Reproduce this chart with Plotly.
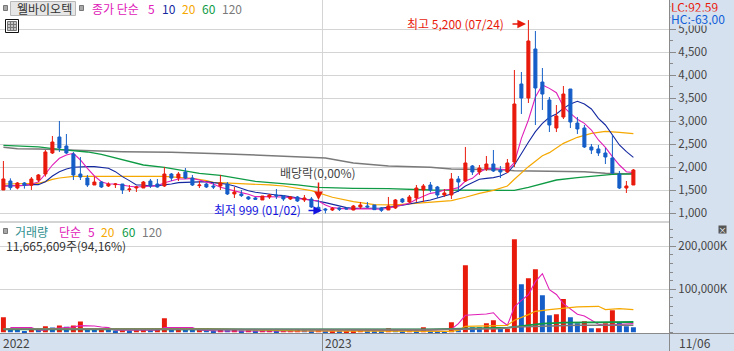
import plotly.graph_objects as go

open_ = [1507,1702,1550,1659,1608,1724,1854,2311,2659,2463,
         2289,1854,1767,1615,1680,1594,1623,1637,1514,1550,
         1550,1702,1637,1594,1854,1767,1898,1767,1601,1637,
         1594,1594,1637,1420,1420,1355,1333,1290,1355,1398,
         1376,1311,1355,1290,1311,1130,1094,1072,1116,1108,
         1072,1137,1159,1181,1116,1072,1116,1311,1246,1333,
         1507,1615,1572,1398,1398,1746,1702,2029,1898,1963,
         2072,1941,1898,2115,3811,3506,4572,3854,3463,2854,
         3093,3702,2963,2855,2442,2398,2311,2203,1854,1550,1615]
high = [2137,1760,1680,1680,1789,1854,2376,2681,3007,2724,
        2333,2224,1833,1797,1702,1673,1659,1637,1615,1594,
        1702,1746,1746,2007,1876,1898,1985,1833,1702,1659,
        1659,1833,1680,1572,1507,1376,1355,1376,1420,1528,
        1398,1376,1376,1398,1355,1290,1116,1137,1130,1130,
        1181,1246,1246,1181,1137,1355,1311,1333,1398,1615,
        1637,1680,1594,1528,1876,1811,2442,2050,2050,2246,
        2376,2029,2181,4115,4072,5200,4963,4159,3528,3354,
        3767,3702,3094,2920,2507,2485,2420,2703,1920,1702,1963]
low = [1507,1507,1521,1536,1507,1680,1797,2289,2333,2289,
       1724,1724,1572,1615,1550,1572,1550,1420,1463,1463,
       1550,1550,1558,1572,1702,1702,1746,1594,1550,1550,
       1528,1507,1398,1333,1355,1290,1290,1290,1311,1311,
       1268,1290,1246,1246,1116,1020,999,1050,1050,1087,
       1065,1094,1116,1072,1029,1072,1094,1224,1224,1246,
       1246,1456,1333,1355,1311,1463,1680,1833,1833,1920,
       1898,1767,1876,2006,3158,3398,2919,3246,2767,2767,
       3050,2854,2724,2420,2289,2246,2072,1854,1528,1442,1615]
close = [1746,1558,1659,1608,1746,1833,2333,2550,2420,2311,
         1833,1789,1615,1680,1572,1637,1637,1507,1528,1572,
         1680,1594,1572,1854,1767,1854,1767,1615,1615,1572,
         1572,1659,1420,1463,1384,1311,1304,1376,1398,1376,
         1311,1355,1268,1333,1137,1050,1072,1108,1087,1094,
         1159,1181,1137,1079,1065,1159,1290,1246,1355,1550,
         1594,1507,1398,1442,1746,1680,2094,1898,1985,2072,
         1920,1898,2094,3376,3506,4746,3724,3593,2919,3115,
         3593,2985,2833,2442,2376,2311,2224,1876,1550,1594,1941]
volume = [34875,9000,7000,2500,8000,6000,14000,11000,16000,13000,
          16000,25000,9000,7000,9000,6000,4000,5000,4000,5000,
          7000,5000,6000,32500,8000,9000,8000,6000,7000,5000,
          4000,6000,5000,6000,4000,5000,4000,5000,6000,4000,
          5000,6000,7000,5000,4000,5000,3000,4000,2500,3000,
          4000,5000,4000,3000,2500,9300,5000,4000,5000,4000,
          11600,3000,2500,2000,23250,4650,155775,11800,11600,20900,
          27900,8500,8500,216225,111600,125550,146475,86000,39500,41850,
          77500,34875,20925,25575,9300,9300,20925,51150,23250,13950,11666]

ma5 = [1594,1594,1594,1608,1637,1680,1854,2050,2195,2268,
       2304,2159,1978,1811,1688,1637,1637,1608,1587,1572,
       1579,1587,1601,1666,1710,1746,1746,1760,1724,1673,
       1637,1565,1521,1492,1449,1413,1362,1362,1362,1362,
       1355,1340,1326,1311,1297,1268,1181,1123,1108,1094,
       1087,1101,1101,1094,1087,1108,1145,1174,1217,1304,
       1362,1434,1456,1507,1521,1558,1702,1760,1891,1971,
       1978,1956,1941,2101,2630,3029,3528,3789,3716,3622,
       3318,3174,3043,2956,2811,2594,2434,2232,2050,1905,1884]
ma10 = [1594,1594,1594,1608,1623,1623,1688,1811,1905,1963,
        2000,2014,2014,2014,2000,1978,1905,1797,1710,1615,
        1615,1594,1601,1615,1637,1666,1673,1688,1688,1688,
        1666,1652,1630,1594,1536,1492,1456,1434,1413,1398,
        1384,1362,1340,1319,1290,1261,1232,1195,1152,1123,
        1108,1108,1108,1108,1116,1130,1145,1174,1203,1239,
        1261,1290,1326,1376,1420,1485,1594,1673,1739,1760,
        1775,1811,1884,2050,2304,2543,2775,2956,3087,3159,
        3282,3376,3434,3376,3268,3065,2920,2703,2485,2340,2217]
ma20_x = [0,3,5,6,7,8,9,10,23,26,27,29,30,38,40,44,47,50,53,56,59,61,64,66,68,70,72,73,75,77,78,80,82,84,86,88,90]
ma20 = [1637,1637,1652,1688,1739,1768,1782,1804,1804,1775,1760,1710,1674,1616,1594,1492,1348,1253,1188,1181,1217,1239,1275,1348,1434,1500,1594,1739,2014,2253,2319,2521,2652,2739,2782,2761,2732]
ma60_x = [0,3,5,8,12,14,17,20,23,25,28,31,32,36,42,45,50,55,61,64,69,73,75,77,79,82,85,87,90]
ma60 = [2478,2463,2442,2391,2333,2282,2174,2050,2000,1942,1869,1826,1797,1695,1616,1565,1543,1536,1507,1507,1500,1500,1565,1637,1724,1775,1826,1848,1855]
ma120_x = [0,2,5,13,17,24,29,31,46,50,55,61,64,71,73,79,83,86,90]
ma120 = [2434,2405,2398,2362,2340,2326,2304,2297,2203,2094,2029,2000,1963,1949,1927,1920,1905,1869,1855]

vma5_x = [1,4,5,6,7,10,11,13,14,15,16,22,23,27,28,31,42,50,54,61,64,65,66,69,70,71,72,73,74,75,76,77,78,79,80,82,83,85,86,90]
vma5 = [10850,10850,4650,4650,8525,12400,15500,14700,12400,10850,4650,4650,10850,10850,4650,3100,3100,3100,3100,4650,7000,20150,39525,42625,45500,27900,16275,58900,74400,87200,117800,136400,99200,88000,66650,41850,37975,18600,16275,20150]
vma20_x = [0,26,29,42,61,64,65,66,72,73,75,76,78,80,82,85,86,88,90]
vma20 = [7750,8500,8500,3100,2325,2325,4650,13950,16275,27900,41075,48825,52700,56575,58900,60450,52700,55000,52700]
vma60_x = [0,30,45,61,72,75,77,80,90]
vma60 = [7000,7000,5425,6975,10850,16275,20150,22475,24000]
vma120_x = [0,30,60,71,73,77,82,90]
vma120 = [7750,7000,6200,8525,12400,13950,16275,16275]

price_ticks = [1000,1500,2000,2500,3000,3500,4000,4500,5000]
vol_ticks = [100000,200000]
vol_tick_text = ["100,000K","200,000K"]
year_labels = ["2022","2023"]
end_label = "11/06"

RED, BLUE = "#e81a0c", "#155ec8"
MAG, NAVY, ORG, GRN, GRY = "#e020b8", "#1428a0", "#f5a800", "#0f9b45", "#7a7a7a"
STRIP = "#d6e1ef"
KR = "Noto Sans CJK KR"
W, H = 734, 351

def px(x): return x / W
def py(y): return 1 - y / H

idx = list(range(len(close)))
xr = [-3.4 / 7, (669 - 3.4) / 7]
grid_x = (322.5 - 3.4) / 7

fig = go.Figure()
def line(x, y, c, w, ya):
    fig.add_trace(go.Scatter(x=x, y=y, mode="lines", line=dict(color=c, width=w), xaxis="x", yaxis=ya, hoverinfo="skip"))

line(ma120_x, ma120, GRY, 1.5, "y")
line(ma60_x, ma60, GRN, 1.3, "y")
line(ma20_x, ma20, ORG, 1.2, "y")
line(idx, ma10, NAVY, 1.1, "y")
line(idx, ma5, MAG, 1.1, "y")

fig.add_trace(go.Candlestick(x=idx, open=open_, high=high, low=low, close=close, xaxis="x", yaxis="y3",
    increasing=dict(line=dict(color=RED, width=1), fillcolor=RED),
    decreasing=dict(line=dict(color=BLUE, width=1), fillcolor=BLUE),
    whiskerwidth=0, hoverinfo="skip"))

vol_col = [RED if i == 0 or volume[i] >= volume[i - 1] else BLUE for i in idx]
fig.add_trace(go.Bar(x=idx, y=volume, marker=dict(color=vol_col, line=dict(width=0)), xaxis="x2", yaxis="y2", hoverinfo="skip"))
line(vma5_x, vma5, MAG, 1.1, "y2")
line(vma20_x, vma20, ORG, 1.2, "y2")
line(vma60_x, vma60, GRN, 1.8, "y2")
line(vma120_x, vma120, GRY, 1.6, "y2")
fig.update_traces(xaxis="x2", selector=dict(yaxis="y2"))

pr = [5000 - (222 - 29.3) / 0.046, 5000 + 29.3 / 0.046]
axis_common = dict(side="right", showline=True, linecolor="#8a8a8a", linewidth=1, ticks="outside", ticklen=6,
                   tickcolor="#8a8a8a", gridcolor="#d4d4d4", gridwidth=1, zeroline=False, tickformat=",",
                   tickfont=dict(family=KR, size=11.5, color="#444444"), fixedrange=True)

annots = []
def txt(x, y, s, c, size=12, **kw):
    annots.append(dict(xref="paper", yref="paper", x=px(x), y=py(y), text=s, showarrow=False, xanchor="left",
                       yanchor="middle", font=dict(family=KR, size=size, color=c), borderpad=0, **kw))

txt(16, 8.5, "웰바이오텍", "#333333")
txt(91, 8.5, "종가 단순", MAG)
for x, s, c in [(147, "5", MAG), (161, "10", NAVY), (181, "20", ORG), (201, "60", GRN), (221, "120", GRY)]:
    txt(x, 8.5, s, c)
txt(14, 231, "거래량", "#2f8f8f")
txt(58, 231, "단순", MAG)
for x, s, c in [(87, "5", MAG), (100, "20", ORG), (121, "60", GRN), (141, "120", GRY)]:
    txt(x, 231, s, c)
txt(5, 245, "11,665,609주(94,16%)", "#333333")
txt(406, 24, "최고 5,200 (07/24)", RED)
txt(213, 209, "최저 999 (01/02)", "#1414e0")
txt(279, 173, "배당락(0,00%)", "#444444")
annots.append(dict(xref="paper", yref="paper", x=px(670), y=py(6.5), text="LC:92,59", showarrow=False, xanchor="left", yanchor="middle",
                   font=dict(family=KR, size=12, color=RED), bgcolor=STRIP, width=64, height=13, align="left", borderpad=0))
annots.append(dict(xref="paper", yref="paper", x=px(670), y=py(19), text="HC:-63,00", showarrow=False, xanchor="left", yanchor="middle",
                   font=dict(family=KR, size=12, color="#1060d8"), bgcolor=STRIP, width=64, height=13, align="left", borderpad=0))
txt(2, 342, year_labels[0], "#444444", 12)
txt(324, 342, year_labels[1], "#444444", 12)
txt(678, 342, end_label, "#444444", 12)
def arrow(x0, y0, x1, y1, c):
    annots.append(dict(xref="paper", yref="paper", axref="pixel", ayref="pixel", x=px(x1), y=py(y1), ax=x0 - x1, ay=y0 - y1,
                       text="", showarrow=True, arrowhead=2, arrowsize=1.15, arrowwidth=1.5, arrowcolor=c))
arrow(511, 24, 526, 24, RED)
arrow(307, 210.5, 322, 210.5, "#1414e0")
arrow(318.5, 181, 318.5, 200, RED)
annots.append(dict(xref="paper", yref="paper", x=px(727), y=py(229), text="×", showarrow=False, font=dict(family=KR, size=8, color="#ffffff"),
                   bgcolor="#555555", width=7, height=7, borderpad=0))

def rect(x0, y0, x1, y1, fill, ln=None, lw=1):
    return dict(type="rect", xref="paper", yref="paper", x0=px(x0), x1=px(x1), y0=py(y0), y1=py(y1), fillcolor=fill,
                line=dict(color=ln or fill, width=lw if ln else 0), layer="above")
def seg(x0, y0, x1, y1, c, w=1):
    return dict(type="line", xref="paper", yref="paper", x0=px(x0), x1=px(x1), y0=py(y0), y1=py(y1), line=dict(color=c, width=w), layer="above")
shapes = [
    rect(10.5, 1.5, 75.5, 15.5, "#e6e6e6", "#b8b8b8"),
    rect(3.5, 5.5, 7.5, 10.5, "#a8a8a8", "#777777"),
    rect(79.5, 5.5, 83.5, 10.5, "#a8a8a8", "#777777"),
    rect(3.5, 228.5, 7.5, 233.5, "#a8a8a8", "#777777"),
    rect(5.5, 19.5, 18.5, 32.5, "#ffffff", "#111111"),
    rect(7.5, 21.5, 16.5, 30.5, "#c4c4c4", "#777777"),
    seg(10.5, 21.5, 10.5, 30.5, "#777777"),
    seg(13.5, 21.5, 13.5, 30.5, "#777777"),
    seg(7.5, 24.5, 16.5, 24.5, "#777777"),
    seg(7.5, 27.5, 16.5, 27.5, "#777777"),
    seg(0, 222, 669, 222, "#a8a8a8"),
    seg(0, 333.5, 734, 333.5, "#8a8a8a"),
    seg(322.5, 333, 322.5, 351, "#8a8a8a"),
    seg(669.5, 333, 669.5, 351, "#8a8a8a"),
]

fig.update_layout(
    width=W, height=H, margin=dict(l=0, r=0, t=0, b=0), paper_bgcolor=STRIP, plot_bgcolor="#ffffff",
    showlegend=False, boxgap=0.38, bargap=0.29, hovermode=False, font=dict(family=KR),
    xaxis=dict(domain=[0, px(669)], range=xr, anchor="y", tickvals=[grid_x], showticklabels=False, ticks="", showgrid=True,
               gridcolor="#d4d4d4", zeroline=False, rangeslider=dict(visible=False), fixedrange=True),
    xaxis2=dict(domain=[0, px(669)], range=xr, anchor="y2", tickvals=[grid_x], showticklabels=False, ticks="", showgrid=True,
                gridcolor="#d4d4d4", zeroline=False, fixedrange=True),
    yaxis=dict(domain=[py(222), 1], range=pr, anchor="x", tickvals=price_ticks, showgrid=True,
               minor=dict(dtick=250, ticklen=3, ticks="outside", tickcolor="#8a8a8a", showgrid=False), **axis_common),
    yaxis3=dict(domain=[py(222), 1], range=pr, overlaying="y", anchor="x", visible=False, fixedrange=True),
    yaxis2=dict(domain=[py(333.5), py(222)], range=[(332.3 - 333.5) * 100000 / 43, (332.3 - 222) * 100000 / 43], anchor="x2",
                tickvals=vol_ticks, ticktext=vol_tick_text, showgrid=True,
                minor=dict(dtick=20000, ticklen=3, ticks="outside", tickcolor="#8a8a8a", showgrid=False), **axis_common),
    annotations=annots, shapes=shapes,
)
fig.write_html("out.html", config=dict(displayModeBar=False), post_script="document.body.style.margin='0';document.documentElement.style.overflow='hidden';")
